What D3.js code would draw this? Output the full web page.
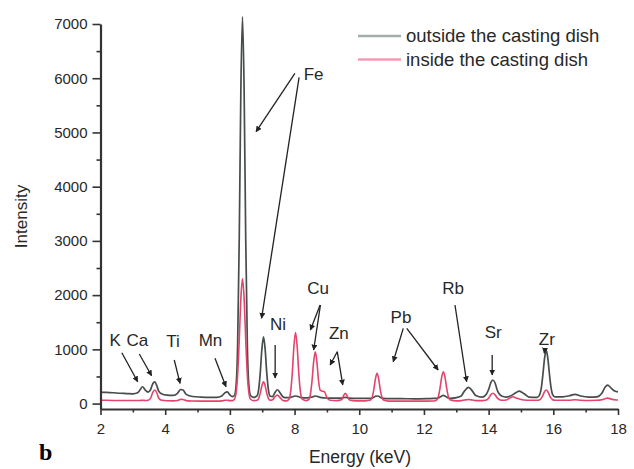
<!DOCTYPE html>
<html>
<head>
<meta charset="utf-8">
<script src="https://cdn.jsdelivr.net/npm/d3@7/dist/d3.min.js"></script>
<style>
  html, body { margin: 0; padding: 0; background: #fff; }
  svg { display: block; font-family: "Liberation Sans", Arial, sans-serif; }
</style>
</head>
<body>
<svg id="chart" width="634" height="469"></svg>
<script>
// XRF spectra: energy grid (keV) and counts for the two sampling spots
const energy = [
  2.0, 2.2, 2.4, 2.6, 2.8, 3.0, 3.15, 3.22, 3.3, 3.38,
  3.47, 3.55, 3.62, 3.68, 3.74, 3.8, 3.9, 4.05, 4.25, 4.38,
  4.48, 4.55, 4.65, 4.85, 5.1, 5.35, 5.6, 5.75, 5.85, 5.92,
  6.0, 6.08, 6.14, 6.19, 6.24, 6.29, 6.34, 6.39, 6.44, 6.49,
  6.54, 6.59, 6.64, 6.74, 6.84, 6.89, 6.94, 6.99, 7.04, 7.09,
  7.14, 7.19, 7.24, 7.32, 7.4, 7.47, 7.55, 7.65, 7.75, 7.83,
  7.88, 7.93, 7.98, 8.03, 8.08, 8.13, 8.18, 8.23, 8.35, 8.44,
  8.49, 8.54, 8.59, 8.64, 8.69, 8.74, 8.79, 8.85, 8.92, 9.0,
  9.1, 9.3, 9.45, 9.52, 9.57, 9.62, 9.7, 9.9, 10.2, 10.35,
  10.4, 10.45, 10.5, 10.55, 10.6, 10.65, 10.7, 10.75, 10.9, 11.3,
  11.7, 12.1, 12.3, 12.4, 12.45, 12.5, 12.55, 12.6, 12.65, 12.7,
  12.75, 12.8, 13.0, 13.15, 13.25, 13.38, 13.5, 13.6, 13.8, 13.9,
  14.0, 14.07, 14.13, 14.2, 14.27, 14.4, 14.55, 14.65, 14.75, 14.85,
  14.95, 15.1, 15.25, 15.5, 15.58, 15.63, 15.68, 15.73, 15.78, 15.83,
  15.88, 15.93, 15.98, 16.05, 16.3, 16.5, 16.67, 16.85, 17.1, 17.35,
  17.5, 17.6, 17.68, 17.78, 17.9, 18.0
];
const outsideDish = [
  210, 205, 200, 190, 185, 180, 200, 250, 310, 250,
  210, 260, 370, 400, 330, 230, 175, 155, 150, 190,
  260, 250, 170, 130, 120, 115, 115, 140, 200, 215,
  160, 130, 150, 320, 1080, 3050, 5800, 7130, 5800, 3050,
  1080, 320, 150, 115, 141, 260, 570, 1006, 1230, 1006,
  570, 260, 141, 130, 210, 255, 200, 120, 110, 110,
  115, 125, 135, 140, 135, 125, 115, 110, 105, 110,
  115, 120, 130, 140, 135, 125, 115, 110, 105, 100,
  100, 100, 100, 110, 115, 110, 100, 95, 95, 95,
  100, 115, 135, 140, 135, 115, 100, 95, 90, 90,
  88, 90, 95, 95, 105, 120, 140, 150, 140, 120,
  105, 95, 110, 140, 230, 300, 230, 150, 120, 150,
  260, 390, 435, 380, 240, 140, 120, 135, 165, 205,
  230, 180, 120, 115, 165, 293, 545, 840, 980, 840,
  545, 293, 165, 125, 125, 145, 170, 140, 120, 125,
  190, 300, 340, 290, 230, 215
];
const insideDish = [
  62, 60, 58, 57, 56, 56, 56, 57, 60, 58,
  62, 100, 210, 250, 200, 100, 60, 52, 50, 58,
  78, 75, 55, 48, 45, 45, 45, 50, 60, 62,
  55, 55, 80, 190, 525, 1175, 1940, 2300, 1940, 1175,
  525, 190, 80, 55, 60, 97, 193, 330, 400, 330,
  193, 97, 60, 70, 130, 155, 110, 55, 50, 85,
  220, 567, 1058, 1310, 1058, 567, 220, 85, 55, 75,
  172, 419, 770, 955, 770, 430, 250, 230, 220, 110,
  60, 55, 70, 150, 190, 150, 65, 50, 50, 64,
  119, 258, 456, 558, 456, 258, 119, 64, 45, 45,
  45, 45, 48, 70, 141, 296, 491, 588, 491, 296,
  141, 72, 50, 55, 65, 75, 65, 55, 55, 60,
  100, 165, 190, 160, 100, 60, 65, 100, 125, 105,
  85, 65, 60, 60, 72, 100, 155, 220, 250, 220,
  155, 100, 72, 62, 60, 62, 70, 62, 58, 60,
  70, 90, 100, 85, 70, 65
];

const xTicks = [2, 4, 6, 8, 10, 12, 14, 16, 18];
const xMinorTicks = [3, 5, 7, 9, 11, 13, 15, 17];
const yTicks = [0, 1000, 2000, 3000, 4000, 5000, 6000, 7000];
const yMinorTicks = [500, 1500, 2500, 3500, 4500, 5500, 6500];

const seriesNames = ["outside the casting dish", "inside the casting dish"];

// Element annotations: label anchor and arrows, in (keV, counts)
const elementLabels = [
  { name: "K",  e: 2.45, i: 1060 },
  { name: "Ca", e: 3.14, i: 1060 },
  { name: "Ti", e: 4.24, i: 1050 },
  { name: "Mn", e: 5.40, i: 1060 },
  { name: "Fe", e: 8.59, i: 5970 },
  { name: "Ni", e: 7.49, i: 1357 },
  { name: "Cu", e: 8.73, i: 2015 },
  { name: "Zn", e: 9.37, i: 1185 },
  { name: "Pb", e: 11.29, i: 1480 },
  { name: "Rb", e: 12.90, i: 2015 },
  { name: "Sr", e: 14.14, i: 1204 },
  { name: "Zr", e: 15.80, i: 1080 }
];
const elementArrows = [
  { e0: 2.66, i0: 938,  e1: 3.15, i1: 403 },
  { e0: 3.20, i0: 914,  e1: 3.58, i1: 514 },
  { e0: 4.28, i0: 804,  e1: 4.46, i1: 374 },
  { e0: 5.54, i0: 835,  e1: 5.88, i1: 311 },
  { e0: 8.01, i0: 6091, e1: 6.81, i1: 5014 },
  { e0: 8.14, i0: 6017, e1: 6.98, i1: 1573 },
  { e0: 7.40, i0: 1080, e1: 7.40, i1: 472 },
  { e0: 8.79, i0: 1818, e1: 8.49, i1: 1357 },
  { e0: 8.80, i0: 1818, e1: 8.59, i1: 988 },
  { e0: 9.32, i0: 957,  e1: 9.10, i1: 711 },
  { e0: 9.32, i0: 957,  e1: 9.49, i1: 343 },
  { e0: 11.36, i0: 1388, e1: 11.05, i1: 772 },
  { e0: 11.47, i0: 1388, e1: 12.44, i1: 619 },
  { e0: 12.96, i0: 1818, e1: 13.32, i1: 403 },
  { e0: 14.11, i0: 896,  e1: 14.11, i1: 527 },
  { e0: 15.74, i0: 1010, e1: 15.72, i1: 930 }
];

const svg = d3.select("#chart");
const x = d3.scaleLinear().domain([2, 18]).range([100.5, 618]);
const y = d3.scaleLinear().domain([-100, 7000]).range([409, 24]);

const axisColor = "#333";
const textColor = "#282828";

// arrowhead marker
svg.append("defs").append("marker")
  .attr("id", "arrowhead")
  .attr("viewBox", "0 0 10 10")
  .attr("refX", 9).attr("refY", 5)
  .attr("markerWidth", 6).attr("markerHeight", 6)
  .attr("markerUnits", "userSpaceOnUse")
  .attr("orient", "auto")
  .append("path")
  .attr("d", "M0,0 L10,5 L0,10 Z")
  .attr("fill", "#222");

// spectra
const rows = energy.map((e, k) => ({ e, out: outsideDish[k], ins: insideDish[k] }));
const lineOut = d3.line().x(d => x(d.e)).y(d => y(d.out)).curve(d3.curveMonotoneX);
const lineIn = d3.line().x(d => x(d.e)).y(d => y(d.ins)).curve(d3.curveMonotoneX);

svg.append("path").datum(rows)
  .attr("d", lineOut)
  .attr("fill", "none")
  .attr("stroke", "#464d4c")
  .attr("stroke-width", 1.7)
  .attr("stroke-linejoin", "round");
svg.append("path").datum(rows)
  .attr("d", lineIn)
  .attr("fill", "none")
  .attr("stroke", "#e3436c")
  .attr("stroke-width", 1.6)
  .attr("stroke-linejoin", "round");

// y axis
const yAxis = svg.append("g").attr("transform", `translate(${x(2)},0)`)
  .call(d3.axisLeft(y).tickValues(yTicks).tickSize(8).tickSizeOuter(0).tickPadding(5).tickFormat(d3.format("d")));
const yMinor = svg.append("g").attr("transform", `translate(${x(2)},0)`)
  .call(d3.axisLeft(y).tickValues(yMinorTicks).tickSize(4).tickSizeOuter(0).tickFormat(""));
yMinor.select(".domain").remove();

// x axis
const xAxis = svg.append("g").attr("transform", `translate(0,${y(-100)})`)
  .call(d3.axisBottom(x).tickValues(xTicks).tickSize(6).tickSizeOuter(0).tickPadding(8).tickFormat(d3.format("d")));
const xMinor = svg.append("g").attr("transform", `translate(0,${y(-100)})`)
  .call(d3.axisBottom(x).tickValues(xMinorTicks).tickSize(3.5).tickSizeOuter(0).tickFormat(""));
xMinor.select(".domain").remove();

[yAxis, yMinor, xAxis, xMinor].forEach(g => {
  g.selectAll(".domain").attr("stroke", axisColor).attr("stroke-width", 2.2);
  g.selectAll(".tick line").attr("stroke", axisColor).attr("stroke-width", 1.6);
  g.selectAll(".tick text")
    .attr("fill", textColor)
    .style("font-size", "15px")
    .style("font-family", '"Liberation Sans", Arial, sans-serif');
});

// axis titles
svg.append("text")
  .attr("transform", `translate(27,${(y(7000) + y(-100)) / 2}) rotate(-90)`)
  .attr("text-anchor", "middle")
  .attr("fill", textColor)
  .style("font-size", "17px")
  .text("Intensity");
svg.append("text")
  .attr("x", 360).attr("y", 463)
  .attr("text-anchor", "middle")
  .attr("fill", textColor)
  .style("font-size", "17.5px")
  .text("Energy (keV)");

// panel letter
svg.append("text")
  .attr("x", 39).attr("y", 460)
  .attr("fill", "#000")
  .style("font-family", '"Liberation Serif", "Times New Roman", serif')
  .style("font-weight", "bold")
  .style("font-size", "24px")
  .text("b");

// element arrows and labels
svg.append("g").selectAll("line").data(elementArrows).join("line")
  .attr("x1", d => x(d.e0)).attr("y1", d => y(d.i0))
  .attr("x2", d => x(d.e1)).attr("y2", d => y(d.i1))
  .attr("stroke", "#222")
  .attr("stroke-width", 1.3)
  .attr("marker-end", "url(#arrowhead)");

svg.append("g").selectAll("text").data(elementLabels).join("text")
  .attr("x", d => x(d.e)).attr("y", d => y(d.i))
  .attr("text-anchor", "middle")
  .attr("fill", textColor)
  .style("font-size", "17px")
  .text(d => d.name);

// legend
const legendColors = ["#a3adaa", "#f09cb5"];
const legend = svg.append("g").attr("transform", "translate(358,36)");
seriesNames.forEach((name, k) => {
  const row = legend.append("g").attr("transform", `translate(0,${k * 23.5})`);
  row.append("line")
    .attr("x1", 0).attr("x2", 43).attr("y1", 0).attr("y2", 0)
    .attr("stroke", legendColors[k]).attr("stroke-width", 2.5);
  row.append("text")
    .attr("x", 48).attr("y", 6.3)
    .attr("fill", textColor)
    .style("font-size", "18.5px")
    .text(name);
});
</script>
</body>
</html>
